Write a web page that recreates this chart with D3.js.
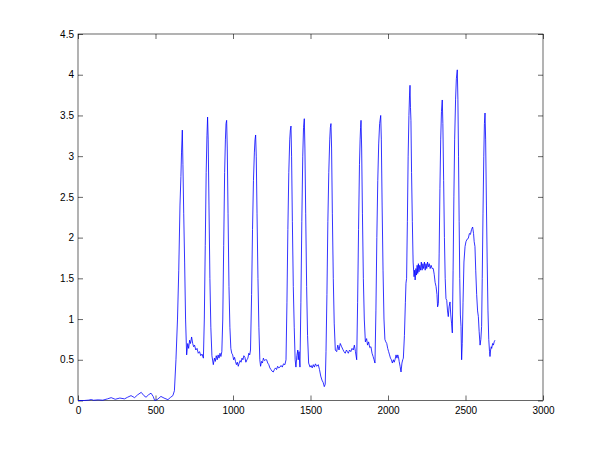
<!DOCTYPE html>
<html>
<head>
<meta charset="utf-8">
<script src="https://cdn.jsdelivr.net/npm/d3@7"></script>
<style>
  body { margin: 0; background: #fff; }
  svg { display: block; }
  .tick text { font-family: "Liberation Sans", Arial, sans-serif; font-size: 10px; fill: #000; }
</style>
</head>
<body>
<svg width="600" height="450"></svg>
<script>
// tick values
const xTicks = [0, 500, 1000, 1500, 2000, 2500, 3000];
const yTicks = [0, 0.5, 1, 1.5, 2, 2.5, 3, 3.5, 4, 4.5];

// signal: sample index / amplitude
const sampleIdx = [
  0, 40, 70, 86, 100, 130, 160, 190, 214, 240, 270, 300, 320, 342, 365, 385, 408, 425, 439, 455, 471, 485, 495, 510, 535, 555, 580, 598, 612, 622,
  632, 642, 650, 658, 664, 668, 673, 677, 682, 688, 694, 701, 708, 714, 720, 726, 733, 740, 746, 752, 760, 768, 776, 784, 792, 800, 809,
  815, 821, 827, 832, 836, 840, 845, 851, 857, 864, 873, 880, 886, 892, 898, 904, 910, 916, 922, 928,
  934, 940, 946, 951, 955, 959, 963, 968, 974, 980, 986, 992, 998, 1004, 1010, 1016, 1022, 1028, 1034, 1040, 1046, 1052, 1058, 1064, 1070, 1077, 1083, 1090, 1096, 1102, 1108, 1113,
  1120, 1126, 1132, 1138, 1142, 1146, 1150, 1155, 1161, 1167, 1173, 1178, 1184, 1190, 1196, 1203, 1210, 1217, 1224, 1231, 1238, 1245, 1252, 1260, 1267, 1274, 1281, 1288, 1295, 1303, 1310, 1318, 1326, 1335, 1342,
  1348, 1354, 1360, 1366, 1370, 1374, 1378, 1383, 1389, 1395, 1401, 1406, 1412, 1418, 1421, 1426, 1432,
  1438, 1444, 1450, 1455, 1460, 1464, 1469, 1475, 1481, 1488, 1497, 1504, 1511, 1518, 1525, 1532, 1540, 1550, 1558, 1566, 1574, 1582, 1589, 1595,
  1600, 1606, 1612, 1618, 1624, 1628, 1632, 1636, 1641, 1647, 1653, 1660, 1669, 1676, 1684, 1692, 1701, 1708, 1716, 1724, 1732, 1738, 1744, 1752, 1760, 1768, 1776, 1783, 1790, 1798,
  1804, 1810, 1816, 1820, 1823, 1826, 1830, 1835, 1841, 1847, 1854, 1862, 1868, 1875, 1882, 1890, 1897, 1904, 1910, 1916,
  1922, 1928, 1934, 1940, 1946, 1953, 1957, 1962, 1968, 1974, 1980, 1986, 1992, 1998, 2004, 2010, 2016, 2022, 2028, 2035, 2040, 2045, 2052, 2058, 2063, 2067, 2072, 2078, 2084, 2090, 2095, 2099,
  2106, 2112, 2116, 2120, 2125, 2130, 2135, 2139, 2142, 2145, 2148, 2152, 2157, 2162, 2168, 2172, 2175, 2180, 2184, 2188, 2192, 2196, 2200, 2205, 2210, 2215, 2220, 2225, 2230, 2235, 2240, 2245, 2250, 2255, 2260, 2266, 2272, 2278, 2285, 2292, 2298, 2304, 2310, 2316, 2320, 2325,
  2330, 2335, 2340, 2345, 2350, 2354, 2359, 2364, 2369, 2374, 2379, 2384, 2389, 2394, 2400, 2405, 2410, 2415,
  2420, 2425, 2430, 2436, 2441, 2447, 2451, 2455, 2459, 2463, 2467, 2471, 2475, 2479, 2484, 2490, 2497, 2503, 2510, 2518, 2525, 2532, 2539, 2546, 2552, 2556, 2561, 2566, 2572, 2578, 2583, 2588, 2594, 2599, 2604,
  2608, 2613, 2618, 2622, 2626, 2630, 2635, 2640, 2645, 2650, 2655, 2658, 2662, 2666, 2669, 2675, 2680, 2685, 2690
];
const amplitude = [
  0, 0, 0.005, 0.012, 0.003, 0.008, 0.004, 0.02, 0.035, 0.015, 0.03, 0.02, 0.04, 0.06, 0.035, 0.07, 0.1, 0.06, 0.04, 0.07, 0.09, 0.05, 0, 0.01, 0.05, 0.03, 0.01, 0.04, 0.06, 0.12,
  0.5, 1.0, 1.6, 2.4, 2.75, 3.05, 3.32, 2.9, 2.3, 1.7, 1.0, 0.56, 0.7, 0.64, 0.74, 0.7, 0.78, 0.7, 0.66, 0.68, 0.62, 0.64, 0.58, 0.6, 0.55, 0.57, 0.52,
  1.0, 1.9, 2.8, 3.25, 3.48, 3.2, 2.4, 1.5, 0.9, 0.55, 0.44, 0.52, 0.48, 0.55, 0.5, 0.56, 0.52, 0.58, 0.54, 0.6,
  1.0, 1.9, 2.8, 3.2, 3.4, 3.44, 3.1, 2.3, 1.4, 0.9, 0.64, 0.58, 0.56, 0.5, 0.53, 0.48, 0.44, 0.47, 0.42, 0.46, 0.49, 0.47, 0.52, 0.5, 0.55, 0.53, 0.47, 0.5, 0.52, 0.58, 0.56, 0.62,
  1.3, 2.1, 2.7, 3.05, 3.2, 3.26, 3.0, 2.3, 1.5, 0.9, 0.5, 0.42, 0.48, 0.46, 0.52, 0.49, 0.5, 0.5, 0.46, 0.44, 0.4, 0.38, 0.36, 0.35, 0.38, 0.4, 0.38, 0.42, 0.4, 0.41, 0.43, 0.41, 0.45, 0.44, 0.5,
  1.2, 2.1, 2.8, 3.2, 3.32, 3.37, 3.0, 2.2, 1.4, 0.9, 0.5, 0.41, 0.55, 0.62, 0.5, 0.6, 0.41,
  1.2, 2.2, 3.0, 3.35, 3.46, 3.1, 2.3, 1.4, 0.8, 0.46, 0.41, 0.43, 0.4, 0.44, 0.41, 0.45, 0.42, 0.44, 0.38, 0.3, 0.25, 0.22, 0.17, 0.2,
  0.6, 1.3, 2.2, 2.8, 3.2, 3.35, 3.4, 3.1, 2.3, 1.5, 0.95, 0.62, 0.6, 0.68, 0.62, 0.7, 0.66, 0.63, 0.6, 0.58, 0.62, 0.6, 0.58, 0.62, 0.6, 0.64, 0.62, 0.68, 0.6, 0.5,
  1.2, 2.1, 2.9, 3.2, 3.35, 3.44, 3.1, 2.3, 1.5, 1.0, 0.72, 0.76, 0.68, 0.72, 0.65, 0.66, 0.58, 0.54, 0.5, 0.46,
  1.1, 2.0, 2.7, 3.15, 3.4, 3.5, 3.2, 2.4, 1.6, 1.0, 0.75, 0.72, 0.7, 0.64, 0.6, 0.56, 0.52, 0.5, 0.46, 0.5, 0.47, 0.5, 0.56, 0.52, 0.56, 0.54, 0.48, 0.42, 0.35, 0.46, 0.5, 0.52,
  0.8, 1.2, 1.44, 1.5, 2.2, 3.0, 3.5, 3.75, 3.87, 3.6, 3.44, 2.8, 2.2, 1.7, 1.52, 1.6, 1.48, 1.62, 1.54, 1.66, 1.56, 1.68, 1.58, 1.66, 1.6, 1.7, 1.6, 1.68, 1.62, 1.7, 1.6, 1.68, 1.62, 1.7, 1.64, 1.68, 1.62, 1.66, 1.62, 1.62, 1.55, 1.45, 1.4, 1.3, 1.15, 1.19,
  1.8, 2.6, 3.2, 3.55, 3.69, 3.4, 2.7, 2.0, 1.5, 1.25, 1.23, 1.1, 1.03, 1.15, 1.21, 1.05, 0.95, 0.83,
  1.6, 2.5, 3.2, 3.7, 3.95, 4.06, 3.7, 3.0, 2.2, 1.5, 1.05, 0.91, 0.5, 0.7, 1.2, 1.7, 1.89, 1.95, 1.98, 1.99, 2.05, 2.04, 2.1, 2.13, 2.05, 1.95, 1.89, 1.6, 1.3, 1.1, 1.03, 0.85, 0.68, 0.75, 0.91,
  1.5, 2.3, 3.0, 3.4, 3.53, 3.2, 2.4, 1.7, 1.1, 0.75, 0.6, 0.54, 0.62, 0.66, 0.64, 0.7, 0.68, 0.72, 0.74
];

const margin = {left: 78, top: 34, right: 57, bottom: 49.5};
const width = 600 - margin.left - margin.right;
const height = 450 - margin.top - margin.bottom;

const svg = d3.select('svg');
const g = svg.append('g').attr('transform', `translate(${margin.left},${margin.top})`);

const xScale = d3.scaleLinear().domain([0, 3000]).range([0, width]);
const yScale = d3.scaleLinear().domain([0, 4.5]).range([height, 0]);

// axes - matlab style, ticks pointing inwards
const styleAxis = sel => {
  sel.select('.domain').remove();
  sel.selectAll('.tick line').attr('stroke', '#000').attr('stroke-width', 0.6);
};

g.append('g')
  .attr('transform', `translate(0,${height})`)
  .call(d3.axisBottom(xScale).tickValues(xTicks).tickSize(-5).tickPadding(6).tickFormat(d3.format('d')))
  .call(styleAxis);
g.append('g')
  .call(d3.axisTop(xScale).tickValues(xTicks).tickSize(-5).tickFormat(''))
  .call(styleAxis);
g.append('g')
  .call(d3.axisLeft(yScale).tickValues(yTicks).tickSize(-5).tickPadding(4).tickFormat(d3.format('')))
  .call(styleAxis);
g.append('g')
  .attr('transform', `translate(${width},0)`)
  .call(d3.axisRight(yScale).tickValues(yTicks).tickSize(-5).tickFormat(''))
  .call(styleAxis);

// box
g.append('rect')
  .attr('width', width)
  .attr('height', height)
  .attr('fill', 'none')
  .attr('stroke', '#000')
  .attr('stroke-width', 0.6);

const line = d3.line()
  .x((d, i) => xScale(sampleIdx[i]))
  .y(d => yScale(d));

g.append('path')
  .datum(amplitude)
  .attr('fill', 'none')
  .attr('stroke', '#0000ff')
  .attr('stroke-width', 0.8)
  .attr('d', line);
</script>
</body>
</html>
